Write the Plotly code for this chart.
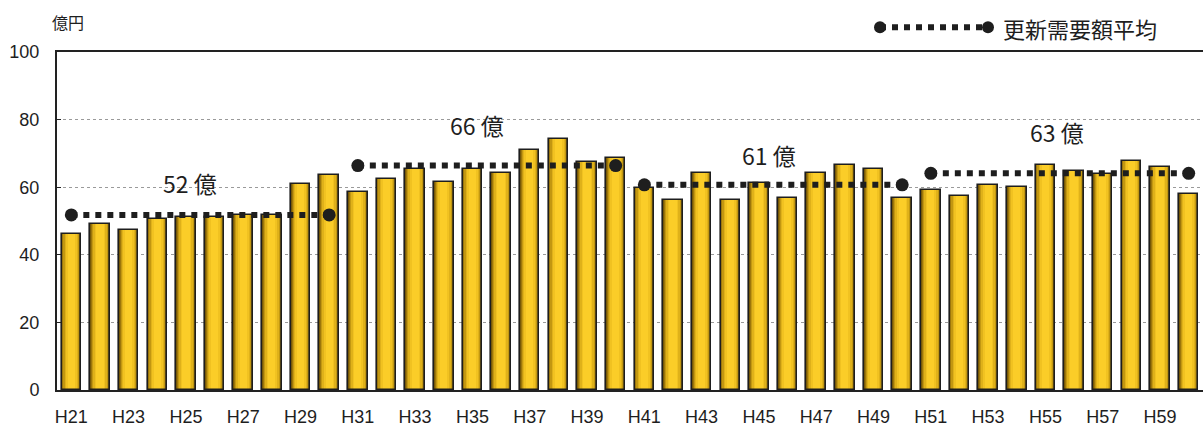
import plotly.graph_objects as go

# ---------------- data ----------------
years = [f"H{n}" for n in range(21, 61)]
demand = [46.2, 49.1, 47.4, 50.6, 51.2, 51.2, 51.7, 51.7, 60.9, 63.7,
          58.5, 62.4, 65.4, 61.4, 65.4, 64.2, 70.9, 74.3, 67.5, 68.7,
          59.8, 56.3, 64.2, 56.3, 61.2, 56.8, 64.2, 66.6, 65.3, 56.9,
          59.1, 57.4, 60.8, 60.2, 66.6, 64.8, 63.8, 67.7, 66.0, 58.0]
seg_start = ["H21", "H31", "H41", "H51"]
seg_end = ["H30", "H40", "H50", "H60"]
seg_avg = [51.8, 66.4, 60.7, 64.1]
seg_label = ["52 億", "66 億", "61 億", "63 億"]
tick_labels = years[::2]
legend_name = "更新需要額平均"
y_unit = "億円"

# ---------------- styling ----------------
FONT = "Liberation Sans, Arial, Noto Sans CJK JP, sans-serif"
CJK = "Noto Sans CJK JP, Liberation Sans, sans-serif"
W, H = 1203, 427
L, R, T, B = 57, 0, 52, 34

fig = go.Figure()

# simulated horizontal gradient: layered bars, dark edges -> bright center
layers = [(0.68, "#765806"), (0.63, "#9c760b"), (0.56, "#c29711"),
          (0.47, "#dfb11a"), (0.37, "#f1c221"), (0.25, "#fbcd28")]
for wdt, col in layers:
    fig.add_trace(go.Bar(x=years, y=demand, width=wdt,
                         marker=dict(color=col, line=dict(width=0)),
                         showlegend=False, hoverinfo="skip"))
# outline
fig.add_trace(go.Bar(x=years, y=demand, width=0.68,
                     marker=dict(color="rgba(0,0,0,0)",
                                 line=dict(color="#1e1e1e", width=1.6)),
                     showlegend=False, name="更新需要額"))

# period averages
for s, e, a in zip(seg_start, seg_end, seg_avg):
    fig.add_trace(go.Scatter(x=[s, e], y=[a, a], mode="lines+markers",
                             line=dict(color="#1e1e1e", width=6, dash="6px,6px"),
                             marker=dict(size=13, color="#1e1e1e"),
                             showlegend=False, name=legend_name))

# average labels (positions relative to category index)
label_pos = [(4.14, 61.1), (14.16, 78.3), (24.35, 69.4), (34.4, 76.3)]
for (lx, ly), txt in zip(label_pos, seg_label):
    fig.add_annotation(x=lx, y=ly, text=txt, showarrow=False,
                       font=dict(family=CJK, size=23, color="#1e1e1e"),
                       xanchor="center", yanchor="middle")

pw = W - L - R
ph = H - T - B
def px(x):
    return (x - L) / pw
def py(y):
    return (H - B - y) / ph

# legend (custom glyph: dot - dotted line - dot)
fig.add_shape(type="line", xref="paper", yref="paper",
              x0=px(880), x1=px(988), y0=py(27), y1=py(27),
              line=dict(color="#1e1e1e", width=6, dash="6px,6px"))
for cx in (880, 988):
    fig.add_shape(type="circle", xref="paper", yref="paper",
                  xsizemode="pixel", ysizemode="pixel",
                  xanchor=px(cx), yanchor=py(27),
                  x0=-6, x1=6, y0=-6, y1=6,
                  fillcolor="#1e1e1e", line=dict(width=0))
fig.add_annotation(xref="paper", yref="paper", x=px(1001), y=py(28),
                   text=legend_name, showarrow=False, xanchor="left",
                   yanchor="middle",
                   font=dict(family=CJK, size=22, color="#1e1e1e"))
# y-unit
fig.add_annotation(xref="paper", yref="paper", x=px(50), y=py(22),
                   text=y_unit, showarrow=False, xanchor="left",
                   yanchor="middle",
                   font=dict(family=CJK, size=16, color="#1e1e1e"))

fig.update_layout(
    width=W, height=H, barmode="overlay", bargap=0,
    margin=dict(l=L, r=R, t=T, b=B, pad=0),
    paper_bgcolor="white", plot_bgcolor="white",
    font=dict(family=FONT, size=18, color="#1e1e1e"),
    showlegend=False,
)
fig.update_xaxes(type="category", categoryorder="array", categoryarray=years,
                 range=[-0.5, len(years) - 0.5],
                 tickmode="array", tickvals=tick_labels, ticktext=tick_labels,
                 ticks="", ticklabelstandoff=9,
                 tickfont=dict(size=18, family=FONT),
                 showline=True, linecolor="#222", linewidth=2, mirror=True,
                 showgrid=False, zeroline=False)
fig.update_yaxes(range=[0, 100], tickvals=[0, 20, 40, 60, 80, 100],
                 ticks="inside", ticklen=4, tickcolor="#222",
                 ticklabelstandoff=12,
                 tickfont=dict(size=18, family=FONT),
                 showline=True, linecolor="#222", linewidth=2,
                 showgrid=True, gridcolor="#9a9a9a", gridwidth=1,
                 griddash="dot", zeroline=False)

fig.write_html("out.html")
